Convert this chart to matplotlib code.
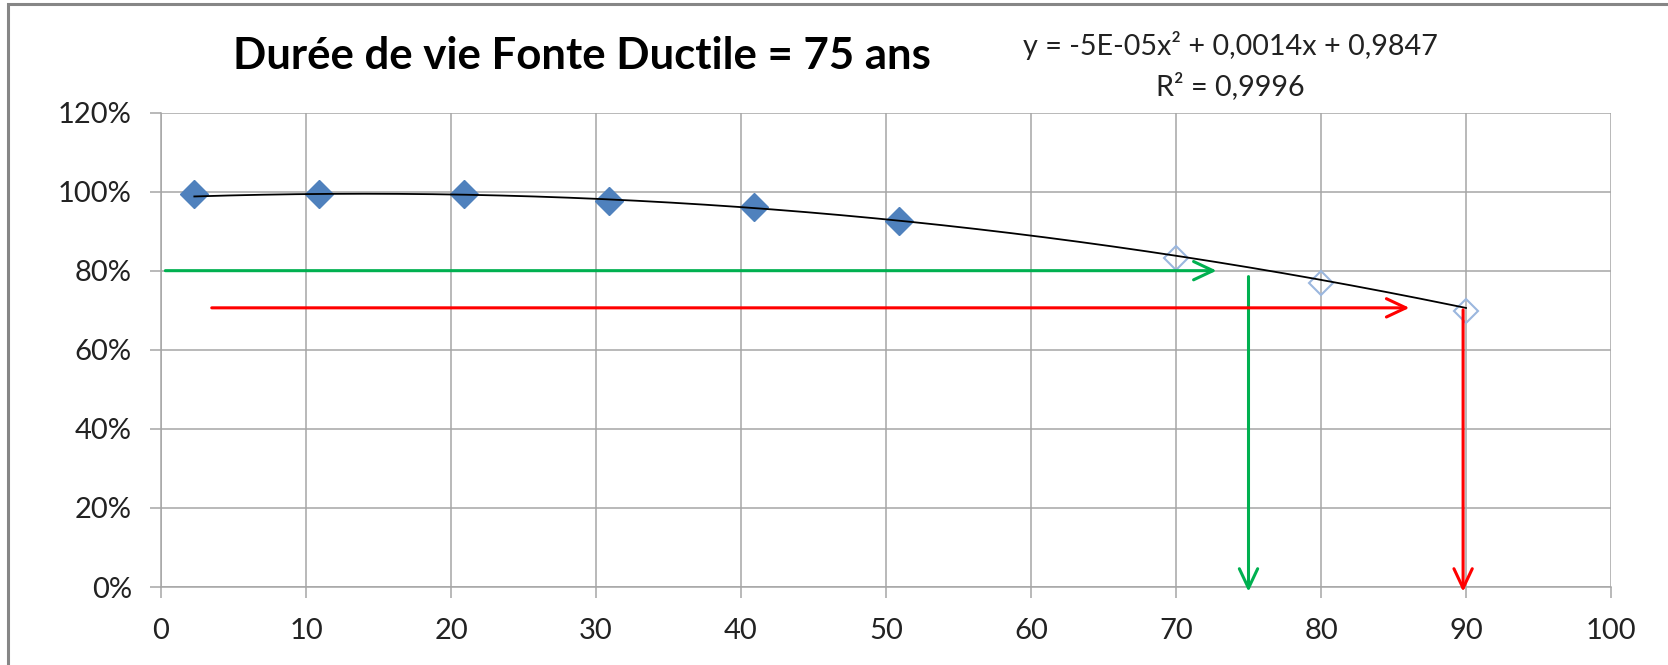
import matplotlib
matplotlib.use("Agg")
import matplotlib.pyplot as plt
import numpy as np
from matplotlib.ticker import FuncFormatter
from matplotlib.patches import Rectangle

# ---- data ----
title = "Durée de vie Fonte Ductile = 75 ans"
eq_text = "y = -5E-05x² + 0,0014x + 0,9847\nR² = 0,9996"
x_obs = [2.3, 10.9, 20.9, 30.9, 40.9, 50.9]
y_obs = [0.994, 0.994, 0.994, 0.976, 0.960, 0.925]
x_proj = [70, 80, 90]
y_proj = [0.833, 0.770, 0.698]
coef = [-5e-05, 0.0014, 0.9847]
trend_x_range = [2.3, 90]
x_ticks = list(range(0, 101, 10))
y_ticks = [0, 0.2, 0.4, 0.6, 0.8, 1.0, 1.2]
# arrows: (x_start, y_start, x_end, y_end)
green_h = (0.3, 0.80, 72.8, 0.80)
green_v = (75.0, 0.785, 75.0, -0.012)
red_h = (3.5, 0.706, 86.1, 0.706)
red_v = (89.8, 0.701, 89.8, -0.012)

plt.rcParams['font.family'] = ['Lato', 'DejaVu Sans']

W, H = 1668, 665
fig = plt.figure(figsize=(W / 100, H / 100), dpi=100)
ax = fig.add_axes([161 / W, 1 - 587 / H, (1611 - 161) / W, (587 - 112.5) / H])

grid_c = '#A6A6A6'
ax.set_xlim(0, 100)
ax.set_ylim(0, 1.2)
ax.set_xticks(x_ticks)
ax.set_yticks(y_ticks)
ax.yaxis.set_major_formatter(FuncFormatter(lambda v, p: f"{v*100:.0f}%"))
ax.grid(True, color=grid_c, lw=1.1)
ax.set_axisbelow(True)
for s in ['top', 'right']:
    ax.spines[s].set_visible(False)
for s in ['left', 'bottom']:
    ax.spines[s].set_color(grid_c)
    ax.spines[s].set_linewidth(1.1)
ax.tick_params(axis='both', direction='out', length=8, width=1.1, color=grid_c,
               labelsize=21, labelcolor='#222222')
ax.tick_params(axis='y', pad=13)
ax.tick_params(axis='x', pad=14)

# points
ax.plot(x_obs, y_obs, linestyle='none', marker='D', ms=14.5, color='#4F81BD',
        mec='#4F81BD', zorder=3, clip_on=False)
ax.plot(x_proj, y_proj, linestyle='none', marker='D', ms=12, mfc='none',
        mec='#9BB7DE', mew=1.5, zorder=3, clip_on=False)

# trendline
xt = np.linspace(trend_x_range[0], trend_x_range[1], 300)
yt = np.polyval(coef, xt)
ax.plot(xt, yt, color='black', lw=1.3, zorder=4)

def arrow(seg, color):
    x0, y0, x1, y1 = seg
    ax.annotate('', xy=(x1, y1), xytext=(x0, y0), annotation_clip=False,
                arrowprops=dict(arrowstyle='->,head_length=0.7,head_width=0.33',
                                color=color, lw=2.2, mutation_scale=20,
                                shrinkA=0, shrinkB=0), zorder=5)

arrow(green_h, '#00B050')
arrow(green_v, '#00B050')
arrow(red_h, '#FF0000')
arrow(red_v, '#FF0000')

# title & equation
fig.text(582 / W, 1 - 56 / H, title, ha='center', va='center',
         fontsize=31.5, fontweight='bold', color='black')
fig.text(1230 / W, 1 - 65.5 / H, eq_text, ha='center', va='center',
         fontsize=20.7, color='#222222', linespacing=1.5)

# chart border (top and left visible)
fig.patches.append(Rectangle((8 / W, -0.1), 1.2, 1 - 4 / H + 0.1,
                             transform=fig.transFigure, fill=False,
                             edgecolor='#868686', lw=2.2))

fig.savefig('out.png', dpi=100)
